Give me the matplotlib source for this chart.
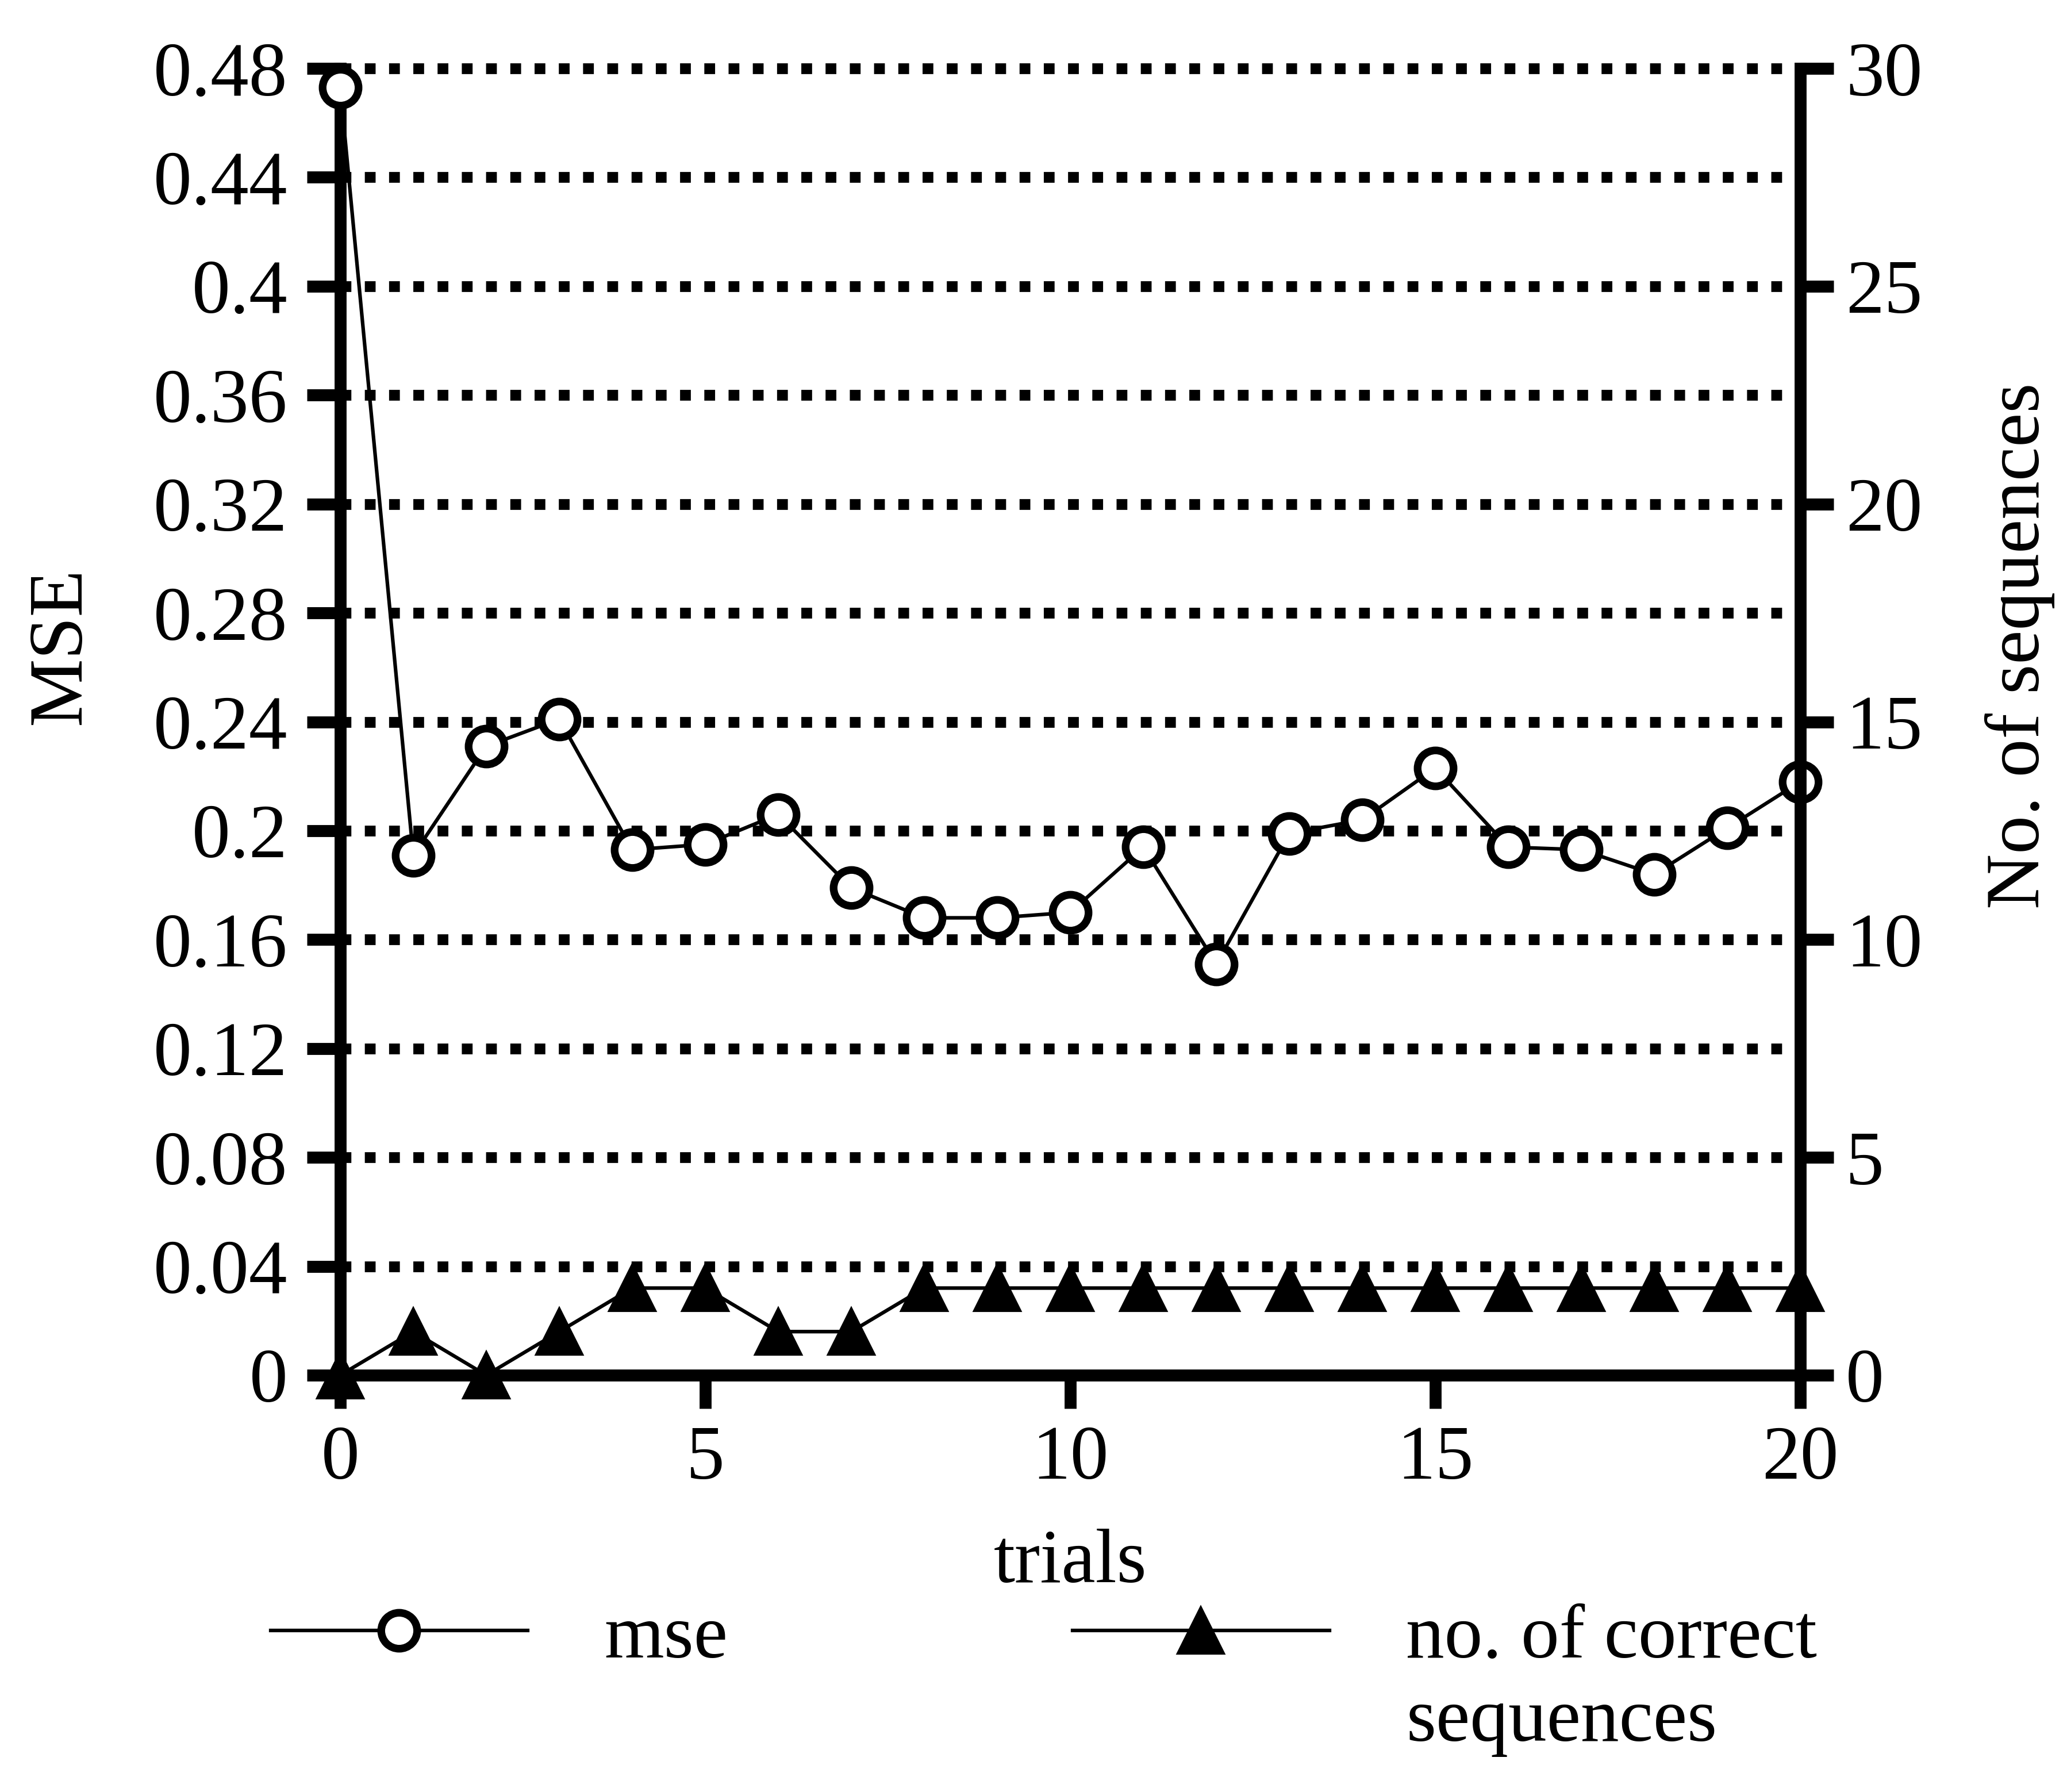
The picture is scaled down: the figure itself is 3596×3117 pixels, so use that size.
import matplotlib
matplotlib.use("Agg")
import matplotlib.pyplot as plt
from matplotlib.ticker import FixedLocator, FixedFormatter

# ---- data -------------------------------------------------------------
trials = list(range(21))
mse = [0.473, 0.191, 0.231, 0.241, 0.193, 0.195, 0.206, 0.179, 0.168, 0.168,
       0.170, 0.194, 0.151, 0.199, 0.204, 0.223, 0.194, 0.193, 0.184, 0.201,
       0.218]
correct = [0, 1, 0, 1, 2, 2, 1, 1, 2, 2, 2, 2, 2, 2, 2, 2, 2, 2, 2, 2, 2]

mse_ticks = [0, 0.04, 0.08, 0.12, 0.16, 0.2, 0.24, 0.28, 0.32, 0.36, 0.4,
             0.44, 0.48]
mse_tick_labels = ["0", "0.04", "0.08", "0.12", "0.16", "0.2", "0.24",
                   "0.28", "0.32", "0.36", "0.4", "0.44", "0.48"]
seq_ticks = [0, 5, 10, 15, 20, 25, 30]
seq_tick_labels = ["0", "5", "10", "15", "20", "25", "30"]
trial_ticks = [0, 5, 10, 15, 20]
trial_tick_labels = ["0", "5", "10", "15", "20"]

# ---- style ------------------------------------------------------------
plt.rcParams['font.family'] = ['Liberation Serif', 'DejaVu Serif']
FS = 32
SPINE_W = 5.0
TICK_LEN = 14
DOT = (0, (1, 1.25))

fig = plt.figure(figsize=(3596 / 300, 3117 / 300), dpi=300)
ax = fig.add_axes([0.1646, 0.2326, 0.871 - 0.1646, 0.9618 - 0.2326])
ax2 = ax.twinx()

# MSE on the left axis
ax.plot(trials, mse, color='black', linewidth=1.5, marker='o',
        markersize=15, markerfacecolor='white', markeredgecolor='black',
        markeredgewidth=3.2, clip_on=False, zorder=3)
ax.set_xlim(0, 20)
ax.set_ylim(0, 0.48)
ax.yaxis.set_major_locator(FixedLocator(mse_ticks))
ax.yaxis.set_major_formatter(FixedFormatter(mse_tick_labels))
ax.xaxis.set_major_locator(FixedLocator(trial_ticks))
ax.xaxis.set_major_formatter(FixedFormatter(trial_tick_labels))
ax.yaxis.grid(True, linestyle=DOT, linewidth=4.5, color='black')
ax.set_axisbelow(True)
for gl in ax.get_ygridlines():
    gl.set_clip_on(False)

# Correct sequences on the right axis
ax2.plot(trials, correct, color='black', linewidth=1.5, marker='^',
         markersize=19, markerfacecolor='black', markeredgecolor='black',
         clip_on=False, zorder=3)
ax2.set_ylim(0, 30)
ax2.yaxis.set_major_locator(FixedLocator(seq_ticks))
ax2.yaxis.set_major_formatter(FixedFormatter(seq_tick_labels))

# spines and ticks
for s in ['top', 'right']:
    ax.spines[s].set_visible(False)
for s in ['top', 'left', 'bottom']:
    ax2.spines[s].set_visible(False)
for s in ['left', 'bottom']:
    ax.spines[s].set_linewidth(SPINE_W)
ax2.spines['right'].set_linewidth(SPINE_W)

ax.tick_params(axis='y', direction='out', length=TICK_LEN, width=SPINE_W,
               labelsize=FS, pad=8)
ax.tick_params(axis='x', direction='out', length=TICK_LEN, width=SPINE_W,
               labelsize=FS, pad=7)
ax2.tick_params(axis='y', direction='out', length=TICK_LEN, width=SPINE_W,
                labelsize=FS, pad=5)

ax.set_ylabel('MSE', fontsize=FS, labelpad=24)
ax2.set_ylabel('No. of sequences', fontsize=FS, labelpad=26)
ax.yaxis.label.set_y(0.558)
ax2.yaxis.label.set_y(0.558)
ax.set_xlabel('trials', fontsize=FS, labelpad=14)

# legend below the plot
h1, = ax.plot([], [], color='black', linewidth=1.5, marker='o',
              markersize=15, markerfacecolor='white',
              markeredgecolor='black', markeredgewidth=3.2)
h2, = ax.plot([], [], color='black', linewidth=1.5, marker='^',
              markersize=19, markerfacecolor='black')
leg = fig.legend([h1, h2], ['mse', 'no. of correct'], loc='center left',
                 bbox_to_anchor=(0.131, 0.0857), ncol=2, frameon=False,
                 handlelength=3.35, handletextpad=1.0, columnspacing=4.5,
                 borderpad=0, borderaxespad=0, fontsize=FS, numpoints=1)

fig.canvas.draw()
renderer = fig.canvas.get_renderer()
bb = leg.get_texts()[1].get_window_extent(renderer)
W, H = fig.bbox.width, fig.bbox.height
fig.text(bb.x0 / W, (bb.y0 - 24) / H, 'sequences', fontsize=FS,
         ha='left', va='top')

fig.savefig('out.png', dpi=300)
